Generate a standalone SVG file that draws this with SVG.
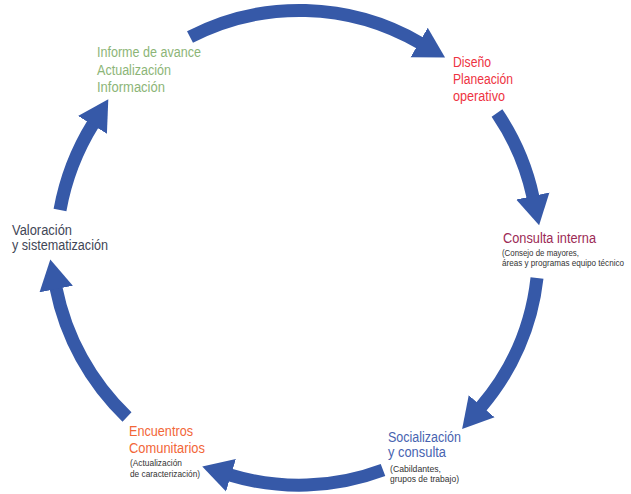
<svg xmlns="http://www.w3.org/2000/svg" width="631" height="494" viewBox="0 0 631 494">
<style>
.arc{fill:none;stroke:#3659a8;stroke-width:13;stroke-linecap:butt;marker-end:url(#head)}
text{font-family:"Liberation Sans",Arial,sans-serif}
.big{font-size:14px}
.small{font-size:9.5px;fill:#333333}
.green{fill:#8cb577}
.red{fill:#ee3342}
.maroon{fill:#9c2a55}
.blue{fill:#4763b0}
.orange{fill:#f26638}
.slate{fill:#3f4656}
</style>
<defs>
<marker id="head" markerUnits="userSpaceOnUse" markerWidth="32" markerHeight="36" viewBox="0 0 32 36" refX="1" refY="18" orient="auto">
<path d="M0,1 L30,18 L0,35 z" fill="#3659a8"/>
</marker>
</defs>
<rect width="631" height="494" fill="#ffffff"/>
<g id="connectors">
<path class="arc" d="M190,37 A239,239 0 0,1 420,43"/>
<path class="arc" d="M497,113 A239,239 0 0,1 533,197"/>
<path class="arc" d="M537,278 A239,239 0 0,1 481,407"/>
<path class="arc" d="M383,470 A239,239 0 0,1 230,475"/>
<path class="arc" d="M127,417 A245,245 0 0,1 56,288"/>
<path class="arc" d="M60,210 A245,245 0 0,1 93,124"/>
</g>
<g id="informe">
<text class="big green" x="97" y="57" textLength="104" lengthAdjust="spacingAndGlyphs">Informe de avance</text>
<text class="big green" x="97" y="75" textLength="74" lengthAdjust="spacingAndGlyphs">Actualización</text>
<text class="big green" x="97" y="92" textLength="68" lengthAdjust="spacingAndGlyphs">Información</text>
</g>
<g id="diseno">
<text class="big red" x="453" y="67" textLength="38" lengthAdjust="spacingAndGlyphs">Diseño</text>
<text class="big red" x="453" y="84" textLength="60" lengthAdjust="spacingAndGlyphs">Planeación</text>
<text class="big red" x="453" y="101" textLength="52" lengthAdjust="spacingAndGlyphs">operativo</text>
</g>
<g id="consulta">
<text class="big maroon" x="503" y="243" textLength="93" lengthAdjust="spacingAndGlyphs">Consulta interna</text>
<text class="small" x="502" y="256" textLength="77" lengthAdjust="spacingAndGlyphs">(Consejo de mayores,</text>
<text class="small" x="502" y="266" textLength="122" lengthAdjust="spacingAndGlyphs">áreas y programas equipo técnico</text>
</g>
<g id="socializacion">
<text class="big blue" x="388" y="442" textLength="73" lengthAdjust="spacingAndGlyphs">Socialización</text>
<text class="big blue" x="388" y="457" textLength="58" lengthAdjust="spacingAndGlyphs">y consulta</text>
<text class="small" x="390" y="472" textLength="51" lengthAdjust="spacingAndGlyphs">(Cabildantes,</text>
<text class="small" x="390" y="482" textLength="69" lengthAdjust="spacingAndGlyphs">grupos de trabajo)</text>
</g>
<g id="encuentros">
<text class="big orange" x="129" y="436" textLength="64" lengthAdjust="spacingAndGlyphs">Encuentros</text>
<text class="big orange" x="129" y="453" textLength="76" lengthAdjust="spacingAndGlyphs">Comunitarios</text>
<text class="small" x="130" y="466" textLength="52" lengthAdjust="spacingAndGlyphs">(Actualización</text>
<text class="small" x="130" y="477" textLength="70" lengthAdjust="spacingAndGlyphs">de caracterización)</text>
</g>
<g id="valoracion">
<text class="big slate" x="12" y="235" textLength="60" lengthAdjust="spacingAndGlyphs">Valoración</text>
<text class="big slate" x="12" y="250" textLength="96" lengthAdjust="spacingAndGlyphs">y sistematización</text>
</g>
</svg>
